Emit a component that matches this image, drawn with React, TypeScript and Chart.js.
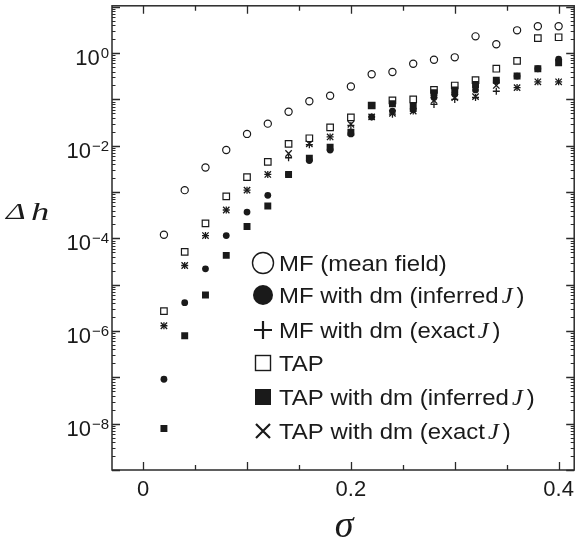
import React, { useEffect, useRef } from 'react';
import { Chart, registerables } from 'chart.js';

Chart.register(...registerables);

// sigma values
const sigma = [0.02, 0.04, 0.06, 0.08, 0.10, 0.12, 0.14, 0.16, 0.18, 0.20, 0.22, 0.24, 0.26, 0.28, 0.30, 0.32, 0.34, 0.36, 0.38, 0.40];

// MF (mean field) - open circles
const mfMean = [1.2e-4, 1.1e-3, 3.4e-3, 8.1e-3, 1.8e-2, 3.0e-2, 5.4e-2, 9.1e-2, 0.12, 0.19, 0.35, 0.39, 0.59, 0.72, 0.81, 2.3, 1.55, 3.1, 3.8, 3.8];
// MF with dm (inferred J) - filled circles
const mfDmInferred = [9.1e-8, 4.1e-6, 2.2e-5, 1.15e-4, 3.7e-4, 8.5e-4, 2.4e-3, 4.8e-3, 8.1e-3, 1.8e-2, 4.2e-2, 5.6e-2, 6.0e-2, 0.11, 0.13, 0.16, 0.25, 0.32, 0.46, 0.74];
// MF with dm (exact J) - plus
const mfDmExact = [1.3e-6, 2.6e-5, 1.15e-4, 4.1e-4, 1.1e-3, 2.4e-3, 5.5e-3, 1.05e-2, 1.55e-2, 2.75e-2, 4.2e-2, 4.8e-2, 5.6e-2, 7.8e-2, 0.10, 0.11, 0.15, 0.18, 0.24, 0.24];
// TAP - open squares
const tap = [2.7e-6, 5.1e-5, 2.1e-4, 8.1e-4, 2.1e-3, 4.5e-3, 1.1e-2, 1.45e-2, 2.5e-2, 4.1e-2, 7.4e-2, 9.5e-2, 0.10, 0.16, 0.20, 0.26, 0.46, 0.68, 2.1, 2.2];
// TAP with dm (inferred J) - filled squares
const tapDmInferred = [7.9e-9, 7.9e-7, 6.0e-6, 4.3e-5, 1.8e-4, 5.0e-4, 2.4e-3, 5.4e-3, 9.3e-3, 1.95e-2, 7.4e-2, 8.1e-2, 7.1e-2, 0.14, 0.16, 0.21, 0.26, 0.32, 0.46, 0.62];
// TAP with dm (exact J) - crosses
const tapDmExact = [1.3e-6, 2.6e-5, 1.15e-4, 4.1e-4, 1.1e-3, 2.4e-3, 6.8e-3, 1.1e-2, 1.55e-2, 2.9e-2, 4.2e-2, 5.0e-2, 5.6e-2, 9.5e-2, 0.11, 0.115, 0.20, 0.18, 0.24, 0.24];

const xTickLabels = ['0', '0.2', '0.4'];
const xTickValues = [0, 0.2, 0.4];
const yLabelExponents = [0, -2, -4, -6, -8];

const legendLabels = [
  ['MF (mean field)', ''],
  ['MF with dm (inferred', 'J'],
  ['MF with dm (exact', 'J'],
  ['TAP', ''],
  ['TAP with dm (inferred', 'J'],
  ['TAP with dm (exact', 'J'],
];

const INK = '#1a1a1a';
const SANS = '"Liberation Sans", Arial, sans-serif';
const SERIF = '"Liberation Serif", "Times New Roman", serif';

const toPts = (arr: number[]) => sigma.map((s, i) => ({ x: s, y: arr[i] }));

const decorPlugin = {
  id: 'decor',
  afterDraw(chart: any) {
    const ctx = chart.ctx as CanvasRenderingContext2D;
    const a = chart.chartArea;
    const xs = chart.scales.x;
    const ys = chart.scales.y;
    ctx.save();
    ctx.strokeStyle = '#2a2a2a';
    ctx.fillStyle = INK;
    ctx.lineWidth = 1.5;
    ctx.strokeRect(a.left, a.top, a.right - a.left, a.bottom - a.top);

    // x ticks
    ctx.lineWidth = 1.3;
    for (let k = 0; k <= 8; k++) {
      const v = k * 0.05;
      const px = Math.round(xs.getPixelForValue(v)) + 0.5;
      const len = k % 2 === 0 ? 8 : 5;
      ctx.beginPath();
      ctx.moveTo(px, a.bottom);
      ctx.lineTo(px, a.bottom - len);
      ctx.moveTo(px, a.top);
      ctx.lineTo(px, a.top + len);
      ctx.stroke();
    }
    // y ticks
    for (let e = -9; e <= 1; e++) {
      for (let m = 1; m <= 9; m++) {
        const v = m * Math.pow(10, e);
        if (v < ys.min || v > ys.max) continue;
        const py = Math.round(ys.getPixelForValue(v)) + 0.5;
        const len = m === 1 ? 8 : 3.5;
        ctx.lineWidth = m === 1 ? 1.3 : 1;
        ctx.beginPath();
        ctx.moveTo(a.left, py);
        ctx.lineTo(a.left + len, py);
        ctx.moveTo(a.right, py);
        ctx.lineTo(a.right - len, py);
        ctx.stroke();
      }
    }

    // x tick labels
    ctx.font = `22px ${SANS}`;
    ctx.textAlign = 'center';
    ctx.textBaseline = 'alphabetic';
    xTickValues.forEach((v, i) => {
      ctx.fillText(xTickLabels[i], xs.getPixelForValue(v), 496);
    });

    // y tick labels
    yLabelExponents.forEach((e) => {
      const py = ys.getPixelForValue(Math.pow(10, e));
      const expText = e === 0 ? '0' : '\u2212' + Math.abs(e);
      ctx.font = `15px ${SANS}`;
      const ew = ctx.measureText(expText).width;
      ctx.font = `22px ${SANS}`;
      const bw = ctx.measureText('10').width;
      const right = a.left - 3;
      ctx.textAlign = 'left';
      ctx.fillText('10', right - ew - bw - 1, py + 12);
      ctx.font = `15px ${SANS}`;
      ctx.fillText(expText, right - ew, py + 5);
    });

    const drawScaled = (t: string, x: number, y: number, sx: number) => {
      ctx.save();
      ctx.translate(x, y);
      ctx.scale(sx, 1);
      ctx.fillText(t, 0, 0);
      ctx.restore();
      return ctx.measureText(t).width * sx;
    };

    // axis titles
    ctx.textAlign = 'left';
    ctx.font = `italic 24px ${SERIF}`;
    drawScaled('\u0394', 6, 219, 1.4);
    ctx.font = `italic 26px ${SERIF}`;
    drawScaled('h', 31, 220, 1.4);
    ctx.font = `italic 38px ${SERIF}`;
    ctx.textAlign = 'center';
    ctx.fillText('\u03c3', 344, 537);

    // legend
    const rowsY = [263, 295, 330, 363, 397, 431];
    const sx = 263;
    const tx = 279;
    const SX = 1.065;
    legendLabels.forEach((lab, i) => {
      const y = rowsY[i];
      ctx.strokeStyle = INK;
      ctx.fillStyle = INK;
      ctx.beginPath();
      if (i === 0) {
        ctx.lineWidth = 1.4;
        ctx.arc(sx, y, 10.5, 0, Math.PI * 2);
        ctx.stroke();
      } else if (i === 1) {
        ctx.arc(sx, y, 10, 0, Math.PI * 2);
        ctx.fill();
      } else if (i === 2) {
        ctx.lineWidth = 2.2;
        ctx.moveTo(sx - 9, y);
        ctx.lineTo(sx + 9, y);
        ctx.moveTo(sx, y - 9);
        ctx.lineTo(sx, y + 9);
        ctx.stroke();
      } else if (i === 3) {
        ctx.lineWidth = 1.4;
        ctx.strokeRect(sx - 7.5, y - 7.5, 15, 15);
      } else if (i === 4) {
        ctx.fillRect(sx - 8, y - 8, 16, 16);
      } else {
        ctx.lineWidth = 2.2;
        ctx.moveTo(sx - 7, y - 7);
        ctx.lineTo(sx + 7, y + 7);
        ctx.moveTo(sx + 7, y - 7);
        ctx.lineTo(sx - 7, y + 7);
        ctx.stroke();
      }
      ctx.textAlign = 'left';
      ctx.font = `22.5px ${SANS}`;
      const base = y + 8;
      let w = drawScaled(lab[0], tx, base, SX);
      if (lab[1]) {
        w += 3;
        ctx.font = `italic 23px ${SERIF}`;
        w += drawScaled(lab[1], tx + w, base, SX) + 4;
        ctx.font = `22.5px ${SANS}`;
        drawScaled(')', tx + w, base, SX);
      }
    });
    ctx.restore();
  },
};

export default function App() {
  const ref = useRef<HTMLCanvasElement>(null);
  useEffect(() => {
    document.body.style.margin = '0';
    const canvas = ref.current!;
    const common = { borderColor: INK, pointBorderColor: INK, showLine: false };
    const chart = new Chart(canvas, {
      type: 'scatter',
      data: {
        datasets: [
          { ...common, label: 'MF (mean field)', data: toPts(mfMean), pointStyle: 'circle', pointRadius: 3.6, pointBorderWidth: 1.2, pointBackgroundColor: 'rgba(0,0,0,0)', backgroundColor: 'rgba(0,0,0,0)' },
          { ...common, label: 'TAP', data: toPts(tap), pointStyle: 'rect', pointRadius: 4.6, pointBorderWidth: 1.2, pointBackgroundColor: 'rgba(0,0,0,0)', backgroundColor: 'rgba(0,0,0,0)' },
          { ...common, label: 'MF with dm (exact J)', data: toPts(mfDmExact), pointStyle: 'cross', pointRadius: 3.5, pointBorderWidth: 1.3 },
          { ...common, label: 'TAP with dm (exact J)', data: toPts(tapDmExact), pointStyle: 'crossRot', pointRadius: 4.5, pointBorderWidth: 1.3 },
          { ...common, label: 'MF with dm (inferred J)', data: toPts(mfDmInferred), pointStyle: 'circle', pointRadius: 3.4, pointBorderWidth: 0, pointBackgroundColor: INK, backgroundColor: INK },
          { ...common, label: 'TAP with dm (inferred J)', data: toPts(tapDmInferred), pointStyle: 'rect', pointRadius: 4.9, pointBorderWidth: 0, pointBackgroundColor: INK, backgroundColor: INK },
        ],
      },
      options: {
        animation: false,
        responsive: false,
        events: [],
        layout: { padding: { left: 112, right: 3, top: 1, bottom: 77 } },
        plugins: { legend: { display: false }, tooltip: { enabled: false } },
        scales: {
          x: { type: 'linear', min: -0.03, max: 0.415, display: false },
          y: { type: 'logarithmic', min: 1e-9, max: 10.5, display: false },
        },
      },
      plugins: [decorPlugin],
    } as any);
    return () => chart.destroy();
  }, []);
  return (
    <div style={{ width: 580, height: 547, background: '#fff' }}>
      <canvas ref={ref} width={580} height={547} style={{ display: 'block' }} />
    </div>
  );
}
